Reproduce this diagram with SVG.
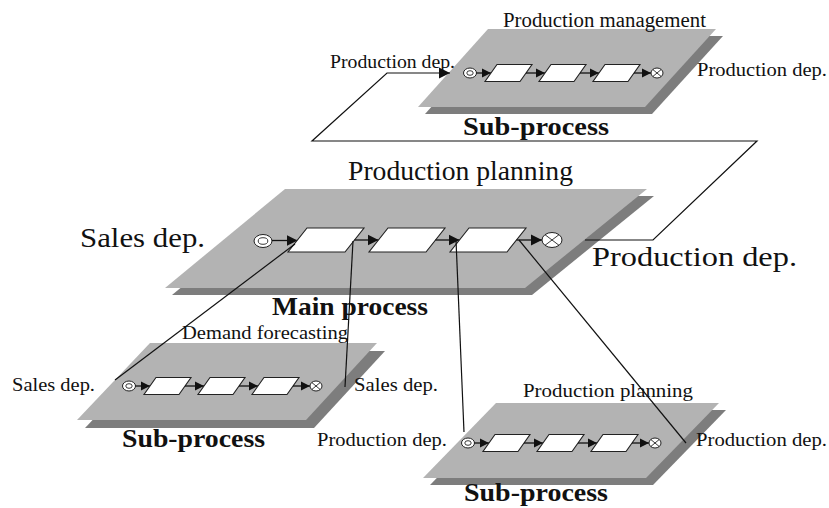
<svg xmlns="http://www.w3.org/2000/svg" xmlns:xlink="http://www.w3.org/1999/xlink" width="829" height="508" viewBox="0 0 829 508">
  <style>
    .plane { fill: #b3b3b3; }
    .shadow { fill: #7d7d7d; }
    .task { fill: #ffffff; stroke: #222222; stroke-width: 1.1; }
    .ev { fill: #ffffff; stroke: #222222; stroke-width: 1; }
    .evi { fill: none; stroke: #222222; stroke-width: 0.9; }
    .flow { fill: none; stroke: #111111; stroke-width: 1.3; }
    .link { fill: none; stroke: #111111; stroke-width: 1.2; }
    .lbl { font-family: "Liberation Serif", "Times New Roman", serif; fill: #111111; }
    .bold { font-weight: bold; }
  </style>
  <defs>
    <marker id="ah-lg" viewBox="0 0 10 10" refX="10" refY="5" markerUnits="userSpaceOnUse" markerWidth="11" markerHeight="12" orient="auto">
      <path d="M0,0 L10,5 L0,10 z" fill="#111111"/>
    </marker>
    <marker id="ah-sm" viewBox="0 0 10 10" refX="10" refY="5" markerUnits="userSpaceOnUse" markerWidth="9" markerHeight="10" orient="auto">
      <path d="M0,0 L10,5 L0,10 z" fill="#111111"/>
    </marker>
    <!-- sub-process chain: start event, three tasks, end event; origin = start event centre -->
    <g id="chain">
      <ellipse class="ev" cx="0" cy="0" rx="6.5" ry="5"/>
      <ellipse class="evi" cx="0" cy="0" rx="3.2" ry="2.3"/>
      <path class="flow" d="M6.5,0 H21" marker-end="url(#ah-sm)"/>
      <polygon class="task" points="27,-8.5 62,-8.5 50,8.5 15,8.5"/>
      <path class="flow" d="M56,0 H75" marker-end="url(#ah-sm)"/>
      <polygon class="task" points="81,-8.5 116,-8.5 104,8.5 69,8.5"/>
      <path class="flow" d="M110,0 H129" marker-end="url(#ah-sm)"/>
      <polygon class="task" points="135,-8.5 170,-8.5 158,8.5 123,8.5"/>
      <path class="flow" d="M164,0 H181" marker-end="url(#ah-sm)"/>
      <ellipse class="ev" cx="187" cy="0" rx="6" ry="5"/>
      <path class="evi" d="M182.8,-3.5 L191.2,3.5 M182.8,3.5 L191.2,-3.5"/>
    </g>
  </defs>

  <!-- Sub-process: production management (top) -->
  <g id="sub-management">
    <polygon class="shadow" points="495,36 723,36 652,114 425,114"/>
    <polygon class="plane" points="488,29 716,29 645,107 418,107"/>
    <use xlink:href="#chain" x="470" y="73"/>
    <text class="lbl" x="503" y="27" font-size="20" textLength="203" lengthAdjust="spacingAndGlyphs">Production management</text>
    <text class="lbl" x="330" y="68" font-size="19" textLength="125" lengthAdjust="spacingAndGlyphs">Production dep.</text>
    <text class="lbl" x="697" y="76" font-size="19" textLength="130" lengthAdjust="spacingAndGlyphs">Production dep.</text>
    <text class="lbl bold" x="463" y="135" font-size="26" textLength="146" lengthAdjust="spacingAndGlyphs">Sub-process</text>
  </g>

  <!-- Main process: production planning -->
  <g id="main-process">
    <polygon class="shadow" points="292,196 654,196 532,295 172,295"/>
    <polygon class="plane" points="285,189 647,189 525,288 165,288"/>
    <ellipse class="ev" cx="263" cy="241" rx="9" ry="6.5"/>
    <ellipse class="evi" cx="263" cy="241" rx="4.8" ry="3.3"/>
    <path class="flow" d="M272,240.5 H297.5" marker-end="url(#ah-lg)"/>
    <polygon class="task" points="307,228 364,228 345,252 288,252"/>
    <path class="flow" d="M354.5,240 H378.5" marker-end="url(#ah-lg)"/>
    <polygon class="task" points="388,228 445,228 426,252 369,252"/>
    <path class="flow" d="M435.5,240 H459.5" marker-end="url(#ah-lg)"/>
    <polygon class="task" points="469,228 526,228 507,252 450,252"/>
    <path class="flow" d="M516.5,240 H542" marker-end="url(#ah-lg)"/>
    <ellipse class="ev" cx="552" cy="240" rx="10" ry="7.5"/>
    <path class="evi" d="M545,234.7 L559,245.3 M545,245.3 L559,234.7"/>
    <text class="lbl" x="348" y="180" font-size="27" textLength="225" lengthAdjust="spacingAndGlyphs">Production planning</text>
    <text class="lbl" x="80" y="247" font-size="28" textLength="125" lengthAdjust="spacingAndGlyphs">Sales dep.</text>
    <text class="lbl" x="592" y="266" font-size="28" textLength="205" lengthAdjust="spacingAndGlyphs">Production dep.</text>
    <text class="lbl bold" x="272" y="315" font-size="26" textLength="156" lengthAdjust="spacingAndGlyphs">Main process</text>
  </g>

  <!-- Sub-process: demand forecasting (bottom left) -->
  <g id="sub-forecasting">
    <polygon class="shadow" points="158,351 385,351 314,428 85,428"/>
    <polygon class="plane" points="150,343 377,343 306,420 77,420"/>
    <use xlink:href="#chain" x="129" y="386"/>
    <text class="lbl" x="182" y="339" font-size="19" textLength="166" lengthAdjust="spacingAndGlyphs">Demand forecasting</text>
    <text class="lbl" x="12" y="391" font-size="19" textLength="83" lengthAdjust="spacingAndGlyphs">Sales dep.</text>
    <text class="lbl" x="354" y="391" font-size="19" textLength="84" lengthAdjust="spacingAndGlyphs">Sales dep.</text>
    <text class="lbl bold" x="122" y="447" font-size="26" textLength="143" lengthAdjust="spacingAndGlyphs">Sub-process</text>
  </g>

  <!-- Sub-process: production planning (bottom right) -->
  <g id="sub-planning">
    <polygon class="shadow" points="503,410 726,410 653,485 430,485"/>
    <polygon class="plane" points="496,403 719,403 646,478 423,478"/>
    <use xlink:href="#chain" x="468" y="443"/>
    <text class="lbl" x="523" y="397" font-size="19" textLength="170" lengthAdjust="spacingAndGlyphs">Production planning</text>
    <text class="lbl" x="317" y="446" font-size="19" textLength="130" lengthAdjust="spacingAndGlyphs">Production dep.</text>
    <text class="lbl" x="696" y="446" font-size="19" textLength="131" lengthAdjust="spacingAndGlyphs">Production dep.</text>
    <text class="lbl bold" x="464" y="501" font-size="25" textLength="144" lengthAdjust="spacingAndGlyphs">Sub-process</text>
  </g>

  <!-- links between the main process and its sub-processes -->
  <g id="connectors">
    <path class="link" d="M295,244 L115,380"/>
    <path class="link" d="M353,241 L345,387"/>
    <path class="link" d="M456,240 L464,432"/>
    <path class="link" d="M519,240 L686,443"/>
    <path class="link" d="M585,240 H653 L757,141 H312 L387,73 H450" marker-end="url(#ah-lg)"/>
  </g>
</svg>
